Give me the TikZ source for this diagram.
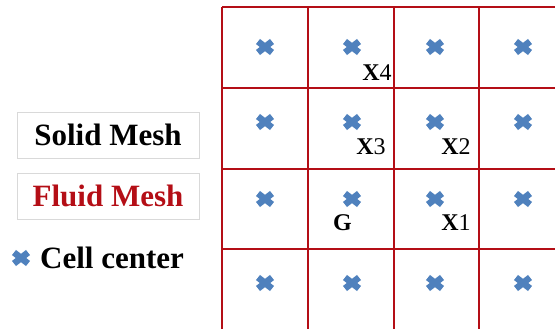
\documentclass[tikz,border=0pt]{standalone}
\usepackage{fontspec}
\setmainfont{Liberation Serif}
\definecolor{meshred}{RGB}{180,14,22}
\definecolor{ccblue}{RGB}{79,129,189}
\tikzset{l/.style={font=\fontsize{31}{31}\selectfont\bfseries}}
\tikzset{m/.style={font=\fontsize{24}{24}\selectfont}}
\tikzset{box/.style={draw=black!15,line width=0.8pt,minimum width=182,minimum height=46,inner sep=0}}
\tikzset{cc/.pic={\draw[ccblue,line width=6.5pt] (-7,-5.5)--(7,5.5) (-7,5.5)--(7,-5.5);}}

\begin{document}
\begin{tikzpicture}[x=1pt,y=-1pt]
        \useasboundingbox (0,0) rectangle (555,329);
        % fluid mesh, runs off the page on the right and at the bottom
        \begin{scope}[meshred,line width=2.5pt]
          \clip (0,0) rectangle (555,329);
          \draw (222,7) -- (222,340) (308,7) -- (308,340) (394,7) -- (394,340) (479,7) -- (479,340);
          \draw (222,7) -- (570,7) (222,88) -- (570,88) (222,169) -- (570,169) (222,249) -- (570,249) (222,330) -- (570,330);
        \end{scope}
        % cell centres
        \pic at (265,47) {cc}; \pic at (352,47) {cc}; \pic at (435,47) {cc}; \pic at (523,47) {cc};
        \pic at (265,122) {cc}; \pic at (352,122) {cc}; \pic at (435,122) {cc}; \pic at (523,122) {cc};
        \pic at (265,199) {cc}; \pic at (352,199) {cc}; \pic at (435,199) {cc}; \pic at (523,199) {cc};
        \pic at (265,283) {cc}; \pic at (352,283) {cc}; \pic at (435,283) {cc}; \pic at (523,283) {cc};
        \begin{scope}[m]
          \node (X4) at (377,72.5) {\textbf{X}4};
          \node (X3) at (371,146.5) {\textbf{X}3};
          \node (X2) at (456,146.5) {\textbf{X}2};
          \node (G) at (342.5,222.5) {\textbf{G}};
          \node (X1) at (456,222.5) {\textbf{X}1};
        \end{scope}
        % legend
        \node[box,l] (solid) at (108,135) {Solid Mesh};
        \node[box,l,text=meshred] (fluid) at (108,196) {Fluid Mesh};
        \pic at (21,258) {cc};
        \node[l,anchor=west,inner sep=0] (cell) at (40,258) {Cell center};
      \end{tikzpicture}
\end{document}
